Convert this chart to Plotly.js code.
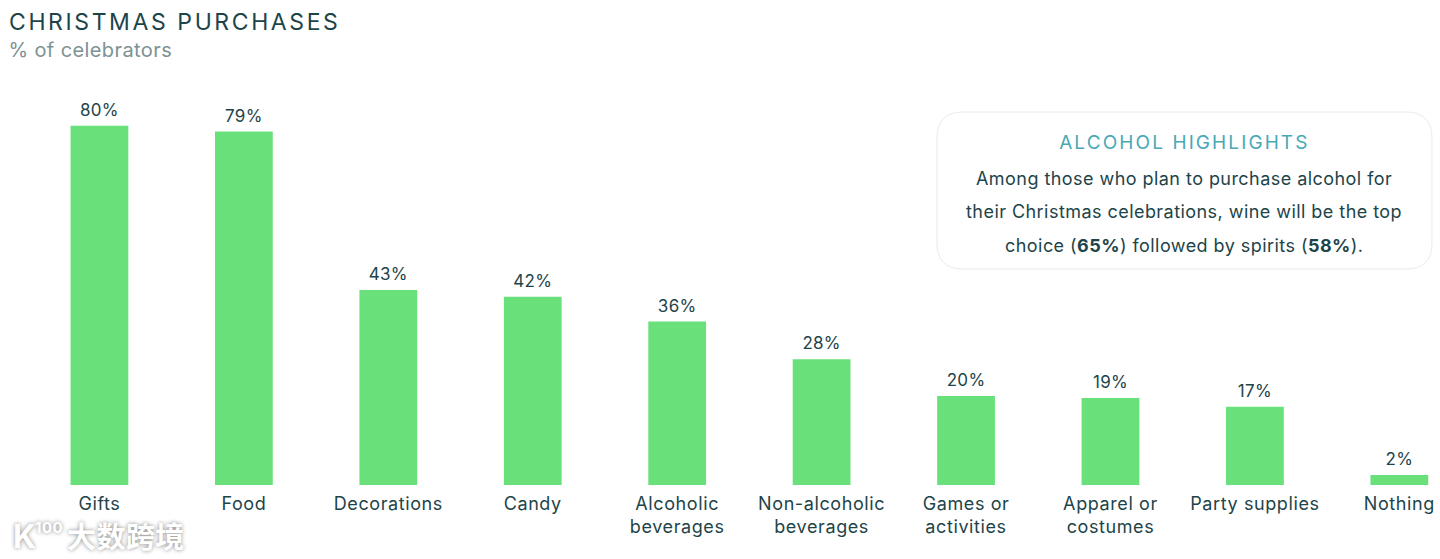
<!DOCTYPE html>
<html><head><meta charset="utf-8">
<script src="https://cdn.plot.ly/plotly-3.0.0.min.js"></script>
<style>html,body{margin:0;padding:0;background:#fff}#c{width:1440px;height:559px}
.xtick text{letter-spacing:.6px}
.gtitle{letter-spacing:2.6px}
text.bartext{letter-spacing:.3px}
.annotation-text{letter-spacing:.45px}
.annotation[data-index="0"] text{letter-spacing:.4px}
.annotation[data-index="1"] text{letter-spacing:2.1px}</style></head>
<body><div id="c"></div>
<script>
const categories=["Gifts","Food","Decorations","Candy","Alcoholic<br>beverages","Non-alcoholic<br>beverages","Games or<br>activities","Apparel or<br>costumes","Party supplies","Nothing"];
const values=[80,78.7,43.4,41.9,36.4,28,19.8,19.4,17.4,2.2];
const labels=["80%","79%","43%","42%","36%","28%","20%","19%","17%","2%"];
const W=1440,H=559,F="Inter, sans-serif",dark="#1d4449";
const px=(x,y,o)=>Object.assign({xref:"paper",yref:"paper",x:x/W,y:1-y/H,xanchor:"center",yanchor:"middle",showarrow:false,font:{family:F,size:18,color:dark}},o);
const X=v=>(v/W).toFixed(5),Y=v=>(1-v/H).toFixed(5);
const l=937,r=1432,t=112,b=269,q=26;
const card=`M${X(l+q)},${Y(t)} L${X(r-q)},${Y(t)} Q${X(r)},${Y(t)} ${X(r)},${Y(t+q)} L${X(r)},${Y(b-q)} Q${X(r)},${Y(b)} ${X(r-q)},${Y(b)} L${X(l+q)},${Y(b)} Q${X(l)},${Y(b)} ${X(l)},${Y(b-q)} L${X(l)},${Y(t+q)} Q${X(l)},${Y(t)} ${X(l+q)},${Y(t)} Z`;
Plotly.newPlot("c",[{type:"bar",x:categories,y:values,text:labels,textposition:"outside",cliponaxis:false,
 textfont:{family:F,size:17,color:dark},marker:{color:"#69e07a"},hoverinfo:"x+y"}],{
 width:W,height:H,paper_bgcolor:"#fff",plot_bgcolor:"#fff",showlegend:false,bargap:0.6,
 margin:{l:0,r:0,t:0,b:0},
 title:{text:"CHRISTMAS PURCHASES",font:{family:F,size:23,color:dark},xref:"paper",yref:"paper",x:9/W,xanchor:"left",y:1-22/H,yanchor:"middle"},
 xaxis:{range:[-0.6885,9.2815],type:"category",showline:false,showgrid:false,zeroline:false,ticks:"",ticklen:0,ticklabelstandoff:6,tickfont:{family:F,size:18,color:dark}},
 yaxis:{domain:[74/H,1],range:[0,108],visible:false,fixedrange:true},
 shapes:[{type:"path",xref:"paper",yref:"paper",path:card,fillcolor:"#fff",line:{color:"#e6ecec",width:1},layer:"below"}],
 annotations:[
  px(6,50,{text:"% of celebrators",xanchor:"left",font:{family:F,size:20,color:"#7d9294"}}),
  px(1184,142,{text:"ALCOHOL HIGHLIGHTS",font:{family:F,size:19,color:"#4aa8b5"}}),
  px(1184,178,{text:"Among those who plan to purchase alcohol for"}),
  px(1184,211.5,{text:"their Christmas celebrations, wine will be the top"}),
  px(1184,245,{text:"choice (<b>65%</b>) followed by spirits (<b>58%</b>)."}),
  px(126.5,535,{text:"大数跨境",font:{family:"Noto Sans CJK SC",size:29,weight:700,color:"#fff",shadow:"0 0 4px #888"}}),
  px(24,536,{text:"K",font:{family:F,size:32,weight:700,color:"#fff",shadow:"0 0 4px #888"}}),
  px(49,527,{text:"100",font:{family:F,size:15,weight:700,color:"#fff",shadow:"0 0 4px #888"}})
 ]},{displayModeBar:false,staticPlot:true}).then(()=>{
  document.querySelectorAll("text.bartext").forEach(t=>t.setAttribute("transform","translate(0,-3) "+(t.getAttribute("transform")||"")));
 });
</script></body></html>
